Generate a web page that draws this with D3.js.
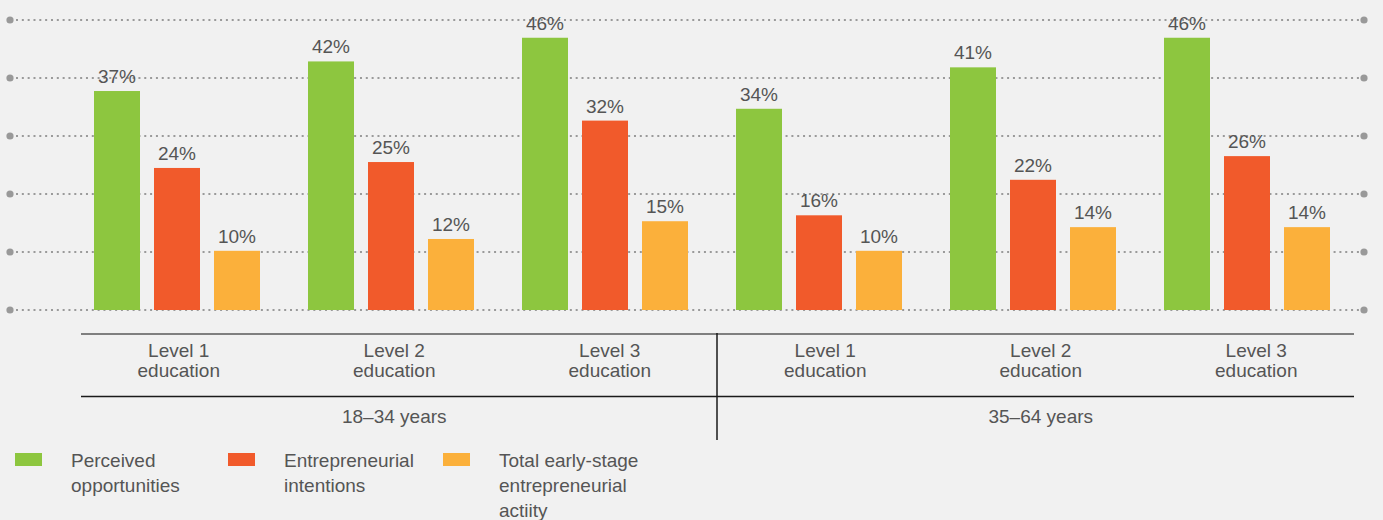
<!DOCTYPE html>
<html>
<head>
<meta charset="utf-8">
<script src="https://cdn.jsdelivr.net/npm/d3@7"></script>
<style>
  html, body { margin: 0; padding: 0; background: #f1f1f1; }
  svg { display: block; }
  text { font-family: "Liberation Sans", Arial, sans-serif; fill: #555; }
</style>
</head>
<body>
<svg id="chart" width="1383" height="520"></svg>
<script>
// Share of adults by age group and education level
const ageGroups = ["18–34 years", "35–64 years"];
const levels = ["Level 1", "Level 2", "Level 3"];
const series = ["Perceived opportunities", "Entrepreneurial intentions", "Total early-stage entrepreneurial actiity"];
const perceived = [37, 42, 46, 34, 41, 46];
const intentions = [24, 25, 32, 16, 22, 26];
const tea = [10, 12, 15, 10, 14, 14];
const legendLines = [
  ["Perceived", "opportunities"],
  ["Entrepreneurial", "intentions"],
  ["Total early-stage", "entrepreneurial", "actiity"]
];
const colors = ["#8dc63f", "#f15a2b", "#fbb03b"];
const yMax = 49;
const gridCount = 5;

const svg = d3.select("#chart");
const baseY = 310, topY = 20;

const groups = [];
ageGroups.forEach((a, ai) => levels.forEach((l, li) => groups.push({ key: ai + "-" + li, age: ai, level: l })));
const valuesBySeries = [perceived, intentions, tea];

// bar groups and the category labels beneath them
const x0 = d3.scaleBand().domain(groups.map(g => g.key)).range([70, 1354]).padding(0);
const xLab = d3.scaleBand().domain(groups.map(g => g.key)).range([71, 1364]).padding(0);
const inner = 166;
const x1 = d3.scaleBand().domain(series).range([0, inner]).paddingInner(0.2333).paddingOuter(0);
const y = d3.scaleLinear().domain([0, yMax]).range([baseY, topY]);

// dotted grid with end caps
const gridVals = d3.range(gridCount + 1).map(i => i * yMax / gridCount);
const grid = svg.append("g");
grid.selectAll("line").data(gridVals).join("line")
  .attr("x1", 16).attr("x2", 1360)
  .attr("y1", d => y(d)).attr("y2", d => y(d))
  .attr("stroke", "#9a9a9a").attr("stroke-width", 2)
  .attr("stroke-dasharray", "2,3.83");
grid.selectAll("circle.l").data(gridVals).join("circle").attr("class", "l")
  .attr("cx", 10).attr("cy", d => y(d)).attr("r", 3.6).attr("fill", "#999");
grid.selectAll("circle.r").data(gridVals).join("circle").attr("class", "r")
  .attr("cx", 1364).attr("cy", d => y(d)).attr("r", 3.6).attr("fill", "#999");

// bars
const barData = [];
groups.forEach((g, gi) => series.forEach((s, si) => barData.push({ g, s, si, v: valuesBySeries[si][gi] })));
const off = (x0.bandwidth() - inner) / 2;
const bars = svg.append("g");
bars.selectAll("rect").data(barData).join("rect")
  .attr("x", d => x0(d.g.key) + off + x1(d.s))
  .attr("width", x1.bandwidth())
  .attr("y", d => y(d.v))
  .attr("height", d => baseY - y(d.v))
  .attr("fill", d => colors[d.si]);
bars.selectAll("text").data(barData).join("text")
  .attr("x", d => x0(d.g.key) + off + x1(d.s) + x1.bandwidth() / 2)
  .attr("y", d => y(d.v) - 8)
  .attr("text-anchor", "middle")
  .style("font-size", "19px")
  .text(d => d.v + "%");

// category axis
const axisG = svg.append("g");
axisG.append("line").attr("x1", 81).attr("x2", 1354).attr("y1", 334).attr("y2", 334)
  .attr("stroke", "#7f7f7f").attr("stroke-width", 2);
axisG.append("line").attr("x1", 81).attr("x2", 1354).attr("y1", 396.5).attr("y2", 396.5)
  .attr("stroke", "#1a1a1a").attr("stroke-width", 1.5);
const midX = 717;
axisG.append("line").attr("x1", midX).attr("x2", midX).attr("y1", 333).attr("y2", 440)
  .attr("stroke", "#1a1a1a").attr("stroke-width", 1.5);

const catText = axisG.selectAll("text.cat").data(groups).join("text").attr("class", "cat")
  .attr("text-anchor", "middle").style("font-size", "19px");
catText.append("tspan").attr("x", d => xLab(d.key) + xLab.bandwidth() / 2).attr("y", 357).text(d => d.level);
catText.append("tspan").attr("x", d => xLab(d.key) + xLab.bandwidth() / 2).attr("y", 377).text("education");

// age labels sit under the middle education level of each group
axisG.selectAll("text.age").data(ageGroups).join("text").attr("class", "age")
  .attr("x", (d, i) => xLab(groups[i * 3 + 1].key) + xLab.bandwidth() / 2).attr("y", 423)
  .attr("text-anchor", "middle").style("font-size", "19px")
  .text(d => d);

// legend
const legX = [15, 228, 443];
const leg = svg.append("g").selectAll("g").data(series).join("g")
  .attr("transform", (d, i) => `translate(${legX[i]},0)`);
leg.append("rect").attr("x", 0).attr("y", 453).attr("width", 27).attr("height", 13)
  .attr("fill", (d, i) => colors[i]);
leg.append("text").style("font-size", "19px")
  .selectAll("tspan").data((d, i) => legendLines[i]).join("tspan")
  .attr("x", 56).attr("y", (d, j) => 466.5 + j * 25).text(d => d);
</script>
</body>
</html>
